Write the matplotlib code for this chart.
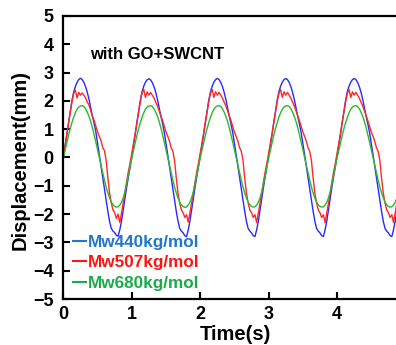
import matplotlib
matplotlib.use('Agg')
import matplotlib.pyplot as plt
from matplotlib.lines import Line2D
import numpy as np

# sampled displacement (mm), one row per second, step 0.025 s
blue_mw440 = [
    0.0, 0.4, 0.8, 1.2, 1.6, 2.0, 2.3, 2.5, 2.65, 2.75, 2.8, 2.75, 2.65, 2.5, 2.3, 2.05, 1.75, 1.45, 1.2, 0.9,
    0.5, 0.1, -0.3, -0.7, -1.1, -1.5, -1.9, -2.25, -2.5, -2.6, -2.65, -2.75, -2.78, -2.55, -2.25, -1.85, -1.45, -1.05, -0.7, -0.35,
    0.02, 0.42, 0.82, 1.22, 1.62, 2.02, 2.32, 2.52, 2.66, 2.74, 2.78, 2.74, 2.64, 2.5, 2.3, 2.05, 1.76, 1.46, 1.2, 0.88,
    0.5, 0.1, -0.3, -0.7, -1.1, -1.5, -1.9, -2.24, -2.5, -2.6, -2.66, -2.76, -2.8, -2.56, -2.24, -1.84, -1.44, -1.04, -0.68, -0.33,
    0.03, 0.42, 0.82, 1.22, 1.62, 2.02, 2.32, 2.52, 2.66, 2.75, 2.79, 2.75, 2.65, 2.5, 2.3, 2.05, 1.75, 1.45, 1.18, 0.88,
    0.5, 0.1, -0.3, -0.7, -1.1, -1.5, -1.9, -2.25, -2.5, -2.6, -2.66, -2.76, -2.79, -2.55, -2.24, -1.84, -1.44, -1.04, -0.68, -0.33,
    0.03, 0.42, 0.82, 1.22, 1.62, 2.02, 2.32, 2.52, 2.66, 2.75, 2.79, 2.75, 2.65, 2.5, 2.3, 2.05, 1.75, 1.45, 1.18, 0.88,
    0.5, 0.1, -0.3, -0.7, -1.1, -1.5, -1.9, -2.25, -2.5, -2.6, -2.66, -2.76, -2.79, -2.55, -2.24, -1.84, -1.44, -1.04, -0.68, -0.33,
    0.03, 0.42, 0.82, 1.22, 1.62, 2.02, 2.32, 2.52, 2.66, 2.75, 2.79, 2.75, 2.65, 2.5, 2.3, 2.05, 1.75, 1.45, 1.18, 0.88,
    0.5, 0.1, -0.3, -0.7, -1.1, -1.5, -1.9, -2.25, -2.5, -2.6, -2.66, -2.76, -2.79, -2.55, -2.24, -1.84, -1.44, -1.04, -0.68, -0.33,
]
red_mw507 = [
    0.0, 0.4, 0.8, 1.2, 1.6, 1.95, 2.25, 2.38, 2.1, 2.3, 2.2, 2.28, 2.2, 2.1, 1.95, 1.85, 1.65, 1.45, 1.3, 1.1,
    0.9, 0.75, 0.6, 0.35, 0.25, -0.1, -0.7, -1.25, -1.6, -1.85, -1.95, -2.15, -2.0, -2.3, -1.95, -1.6, -1.25, -0.85, -0.5, -0.2,
    0.15, 0.5, 0.85, 1.25, 1.62, 1.97, 2.27, 2.4, 2.12, 2.32, 2.2, 2.3, 2.2, 2.1, 1.95, 1.82, 1.65, 1.47, 1.3, 1.1,
    0.9, 0.75, 0.58, 0.35, 0.22, -0.1, -0.72, -1.25, -1.6, -1.85, -1.95, -2.12, -2.02, -2.28, -1.95, -1.6, -1.25, -0.85, -0.5, -0.2,
    0.15, 0.5, 0.85, 1.25, 1.62, 1.97, 2.27, 2.4, 2.12, 2.32, 2.2, 2.3, 2.2, 2.1, 1.95, 1.82, 1.65, 1.47, 1.3, 1.1,
    0.9, 0.75, 0.58, 0.35, 0.22, -0.1, -0.72, -1.25, -1.6, -1.85, -1.95, -2.12, -2.02, -2.3, -1.95, -1.6, -1.25, -0.85, -0.5, -0.2,
    0.15, 0.5, 0.85, 1.25, 1.62, 1.97, 2.27, 2.4, 2.12, 2.32, 2.2, 2.3, 2.2, 2.1, 1.95, 1.82, 1.65, 1.47, 1.3, 1.1,
    0.9, 0.75, 0.58, 0.35, 0.22, -0.1, -0.72, -1.25, -1.6, -1.85, -1.95, -2.12, -2.02, -2.3, -1.95, -1.6, -1.25, -0.85, -0.5, -0.2,
    0.15, 0.5, 0.85, 1.25, 1.62, 1.97, 2.27, 2.4, 2.12, 2.32, 2.2, 2.3, 2.2, 2.1, 1.95, 1.82, 1.65, 1.47, 1.3, 1.1,
    0.9, 0.75, 0.58, 0.35, 0.22, -0.1, -0.72, -1.25, -1.6, -1.85, -1.95, -2.12, -2.02, -2.3, -1.95, -1.6, -1.25, -0.85, -0.5, -0.2,
]
green_mw680 = [
    0.0, 0.25, 0.52, 0.78, 1.02, 1.23, 1.42, 1.58, 1.7, 1.78, 1.82, 1.83, 1.8, 1.72, 1.6, 1.45, 1.27, 1.05, 0.8, 0.54,
    0.27, 0.0, -0.28, -0.55, -0.8, -1.04, -1.25, -1.43, -1.57, -1.67, -1.73, -1.75, -1.74, -1.68, -1.58, -1.42, -1.2, -0.92, -0.62, -0.32,
    -0.02, 0.25, 0.52, 0.78, 1.02, 1.23, 1.42, 1.58, 1.7, 1.78, 1.82, 1.83, 1.8, 1.72, 1.6, 1.45, 1.27, 1.05, 0.8, 0.54,
    0.27, 0.0, -0.28, -0.55, -0.8, -1.04, -1.25, -1.43, -1.57, -1.67, -1.73, -1.76, -1.75, -1.68, -1.58, -1.42, -1.2, -0.92, -0.62, -0.32,
    -0.02, 0.25, 0.52, 0.78, 1.02, 1.23, 1.42, 1.58, 1.7, 1.78, 1.82, 1.83, 1.8, 1.72, 1.6, 1.45, 1.27, 1.05, 0.8, 0.54,
    0.27, 0.0, -0.28, -0.55, -0.8, -1.04, -1.25, -1.43, -1.57, -1.67, -1.73, -1.75, -1.74, -1.68, -1.58, -1.42, -1.2, -0.92, -0.62, -0.32,
    -0.02, 0.25, 0.52, 0.78, 1.02, 1.23, 1.42, 1.58, 1.7, 1.78, 1.82, 1.83, 1.8, 1.72, 1.6, 1.45, 1.27, 1.05, 0.8, 0.54,
    0.27, 0.0, -0.28, -0.55, -0.8, -1.04, -1.25, -1.43, -1.57, -1.67, -1.73, -1.75, -1.74, -1.68, -1.58, -1.42, -1.2, -0.92, -0.62, -0.32,
    -0.02, 0.25, 0.52, 0.78, 1.02, 1.23, 1.42, 1.58, 1.7, 1.78, 1.82, 1.83, 1.8, 1.72, 1.6, 1.45, 1.27, 1.05, 0.8, 0.54,
    0.27, 0.0, -0.28, -0.55, -0.8, -1.04, -1.25, -1.43, -1.57, -1.67, -1.73, -1.75, -1.74, -1.68, -1.58, -1.42, -1.2, -0.92, -0.62, -0.32,
]
series_labels = ['Mw440kg/mol', 'Mw507kg/mol', 'Mw680kg/mol']
dt = 0.025

plt.rcParams['font.family'] = ['Liberation Sans', 'DejaVu Sans']
plt.rcParams['font.weight'] = 'bold'

fig = plt.figure(figsize=(3.96, 3.45), dpi=100)
ax = fig.add_axes([0.160, 0.133, 0.864, 0.821])

line_colors = ['#2828ff', '#ff2828', '#2db82d']
label_colors = ['#1f78c8', '#ff1414', '#1aab4a']
for vals, c in zip([blue_mw440, red_mw507, green_mw680], line_colors):
    t = np.arange(len(vals)) * dt
    ax.plot(t, vals, color=c, lw=1.0)

ax.set_xlim(0, 5)
ax.set_ylim(-5, 5)
ax.set_xticks(range(0, 6))
ax.set_yticks(range(-5, 6))
ax.tick_params(direction='in', length=5, width=1.5, labelsize=13)
ax.tick_params(axis='y', pad=7)
ax.tick_params(axis='x', pad=5)
for s in ax.spines.values():
    s.set_linewidth(1.6)

ax.set_xlabel('Time(s)', fontsize=14.5, fontweight='bold')
ax.set_ylabel('Displacement(mm)', fontsize=14.5, fontweight='bold')
ax.xaxis.set_label_coords(0.504, -0.09)
ax.yaxis.set_label_coords(-0.10, 0.49)

ax.text(0.077, 0.865, 'with GO+SWCNT', transform=ax.transAxes, fontsize=12,
        fontweight='bold', va='center', ha='left')

handles = [Line2D([], [], color=c, lw=1.5) for c in label_colors]
ax.legend(handles, series_labels, loc='lower left', bbox_to_anchor=(0.028, 0.03),
          frameon=False, borderpad=0, borderaxespad=0, handlelength=0.75,
          handletextpad=0.1, labelspacing=0.32, labelcolor=label_colors,
          prop={'size': 12.3, 'weight': 'bold'})

fig.savefig('out.png', dpi=100)
